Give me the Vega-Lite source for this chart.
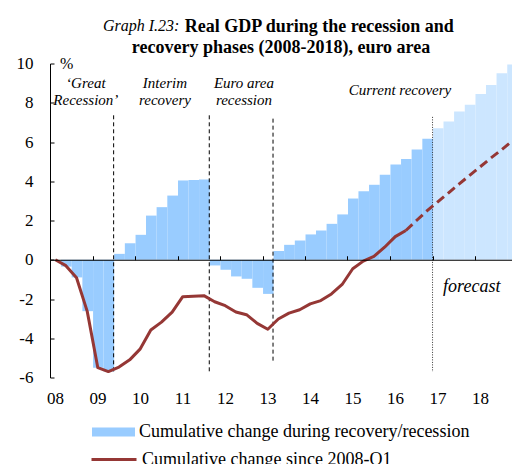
{
  "$schema": "https://vega.github.io/schema/vega-lite/v6.json",
  "width": 462,
  "height": 314,
  "autosize": {"type": "none"},
  "padding": {"left": 50, "top": 63.5, "right": 0, "bottom": 86.5},
  "title": {
    "text": ["\u200b\u00a0\u00a0\u00a0\u00a0\u00a0\u00a0\u00a0\u00a0\u00a0\u00a0\u00a0\u00a0\u00a0\u00a0\u00a0\u00a0\u00a0Real GDP during the recession and", "recovery phases (2008-2018), euro area"],
    "font": "Liberation Serif",
    "fontSize": 18,
    "fontWeight": "bold",
    "color": "#000",
    "anchor": "middle",
    "lineHeight": 21,
    "offset": -39
  },
  "datasets": {
    "gdp": [
      {"date": "2008-01-01T00:00", "bar": 0, "line": 0, "status": "actual"},
      {"date": "2008-04-01T00:00", "bar": -0.35, "line": -0.3, "status": "actual"},
      {"date": "2008-07-01T00:00", "bar": -0.9, "line": -0.92, "status": "actual"},
      {"date": "2008-10-01T00:00", "bar": -2.62, "line": -2.63, "status": "actual"},
      {"date": "2009-01-01T00:00", "bar": -5.5, "line": -5.5, "status": "actual"},
      {"date": "2009-04-01T00:00", "bar": -5.7, "line": -5.7, "status": "actual"},
      {"date": "2009-07-01T00:00", "bar": 0.3, "line": -5.47, "status": "actual"},
      {"date": "2009-10-01T00:00", "bar": 0.84, "line": -5.1, "status": "actual"},
      {"date": "2010-01-01T00:00", "bar": 1.27, "line": -4.54, "status": "actual"},
      {"date": "2010-04-01T00:00", "bar": 2.25, "line": -3.58, "status": "actual"},
      {"date": "2010-07-01T00:00", "bar": 2.68, "line": -3.18, "status": "actual"},
      {"date": "2010-10-01T00:00", "bar": 3.27, "line": -2.67, "status": "actual"},
      {"date": "2011-01-01T00:00", "bar": 4.04, "line": -1.88, "status": "actual"},
      {"date": "2011-04-01T00:00", "bar": 4.06, "line": -1.86, "status": "actual"},
      {"date": "2011-07-01T00:00", "bar": 4.09, "line": -1.83, "status": "actual"},
      {"date": "2011-10-01T00:00", "bar": -0.29, "line": -2.14, "status": "actual"},
      {"date": "2012-01-01T00:00", "bar": -0.51, "line": -2.34, "status": "actual"},
      {"date": "2012-04-01T00:00", "bar": -0.85, "line": -2.66, "status": "actual"},
      {"date": "2012-07-01T00:00", "bar": -0.97, "line": -2.8, "status": "actual"},
      {"date": "2012-10-01T00:00", "bar": -1.43, "line": -3.24, "status": "actual"},
      {"date": "2013-01-01T00:00", "bar": -1.74, "line": -3.54, "status": "actual"},
      {"date": "2013-04-01T00:00", "bar": 0.44, "line": -3.02, "status": "actual"},
      {"date": "2013-07-01T00:00", "bar": 0.76, "line": -2.72, "status": "actual"},
      {"date": "2013-10-01T00:00", "bar": 0.98, "line": -2.55, "status": "actual"},
      {"date": "2014-01-01T00:00", "bar": 1.29, "line": -2.25, "status": "actual"},
      {"date": "2014-04-01T00:00", "bar": 1.49, "line": -2.08, "status": "actual"},
      {"date": "2014-07-01T00:00", "bar": 1.83, "line": -1.74, "status": "actual"},
      {"date": "2014-10-01T00:00", "bar": 2.31, "line": -1.26, "status": "actual"},
      {"date": "2015-01-01T00:00", "bar": 3.12, "line": -0.46, "status": "actual"},
      {"date": "2015-04-01T00:00", "bar": 3.49, "line": -0.07, "status": "actual"},
      {"date": "2015-07-01T00:00", "bar": 3.82, "line": 0.17, "status": "actual"},
      {"date": "2015-10-01T00:00", "bar": 4.33, "line": 0.64, "status": "actual"},
      {"date": "2016-01-01T00:00", "bar": 4.85, "line": 1.18, "status": "actual"},
      {"date": "2016-04-01T00:00", "bar": 5.14, "line": 1.49, "status": "actual"},
      {"date": "2016-07-01T00:00", "bar": 5.62, "line": 2.0, "status": "actual"},
      {"date": "2016-10-01T00:00", "bar": 6.16, "line": 2.5, "status": "actual"},
      {"date": "2017-01-01T00:00", "bar": 6.7, "line": 2.95, "status": "forecast"},
      {"date": "2017-04-01T00:00", "bar": 7.05, "line": 3.4, "status": "forecast"},
      {"date": "2017-07-01T00:00", "bar": 7.55, "line": 3.85, "status": "forecast"},
      {"date": "2017-10-01T00:00", "bar": 7.9, "line": 4.3, "status": "forecast"},
      {"date": "2018-01-01T00:00", "bar": 8.45, "line": 4.74, "status": "forecast"},
      {"date": "2018-04-01T00:00", "bar": 8.9, "line": 5.18, "status": "forecast"},
      {"date": "2018-07-01T00:00", "bar": 9.5, "line": 5.6, "status": "forecast"},
      {"date": "2018-10-01T00:00", "bar": 9.95, "line": 6.05, "status": "forecast"}
    ],
    "rules": [
      {"date": "2009-07-01T00:00", "top": 7.36, "bot": -5.8, "kind": "phase"},
      {"date": "2011-10-01T00:00", "top": 7.36, "bot": -5.78, "kind": "phase"},
      {"date": "2013-04-01T00:00", "top": 7.19, "bot": -5.2, "kind": "phase"},
      {"date": "2017-01-01T00:00", "top": 7.28, "bot": -5.72, "kind": "forecast"}
    ],
    "notes": [
      {"date": "2008-11-04T00:00", "y": 8.74, "text": "\u2018Great\nRecession\u2019", "kind": "phase"},
      {"date": "2010-09-15T00:00", "y": 8.74, "text": "Interim\nrecovery", "kind": "phase"},
      {"date": "2012-07-25T00:00", "y": 8.74, "text": "Euro area\nrecession", "kind": "phase"},
      {"date": "2016-03-27T00:00", "y": 8.42, "text": "Current recovery", "kind": "phase"},
      {"date": "2017-12-04T00:00", "y": -1.63, "text": "forecast", "kind": "forecast"},
      {"date": "2008-03-27T00:00", "y": 9.7, "text": "%", "kind": "unit"},
      {"date": "2009-03-31T00:00", "y": 11.66, "text": "Graph I.23:", "kind": "graph"}
    ]
  },
  "layer": [
    {
      "data": {"name": "gdp"},
      "transform": [{"filter": "datum.status == 'actual'"}],
      "mark": {"type": "bar", "binSpacing": 0},
      "encoding": {
        "x": {
          "field": "date", "type": "temporal", "timeUnit": "yearquarter",
          "scale": {"domain": [{"year": 2008, "month": 1, "date": 1}, {"year": 2018, "month": 11, "date": 15}]},
          "axis": {
            "title": null, "format": "%y", "tickCount": {"interval": "year", "step": 1},
            "offset": -117.75, "tickSize": -4, "labelPadding": 134.5, "labelOffset": 5,
            "labelFlush": false, "labelOverlap": false, "grid": false, "zindex": 1
          }
        },
        "y": {
          "field": "bar", "type": "quantitative",
          "scale": {"domain": [-6, 10], "nice": false, "zero": false},
          "axis": {
            "title": null, "tickCount": 8, "format": "d", "tickSize": -4,
            "labelPadding": 21, "grid": false,
            "labelOverlap": false, "labelFlush": false
          }
        },
        "fill": {
          "datum": "Cumulative change during recovery/recession", "type": "nominal",
          "scale": {"range": ["#99CCFF"]},
          "legend": {
            "orient": "none", "legendX": 42, "legendY": 347, "title": null,
            "symbolType": "M-1,-0.21H1V0.21H-1Z", "symbolSize": 1849, "symbolStrokeWidth": 0,
            "labelFontSize": 18, "labelOffset": 4, "padding": 0
          }
        }
      }
    },
    {
      "data": {"name": "gdp"},
      "transform": [{"filter": "datum.status == 'forecast'"}],
      "mark": {"type": "bar", "fill": "#CCE6FF", "clip": true, "binSpacing": 0},
      "encoding": {
        "x": {"field": "date", "type": "temporal", "timeUnit": "yearquarter"},
        "y": {"field": "bar", "type": "quantitative"}
      }
    },
    {
      "data": {"name": "rules"},
      "transform": [{"filter": "datum.kind == 'phase'"}],
      "mark": {"type": "rule", "color": "#000", "strokeWidth": 1, "strokeDash": [4, 3]},
      "encoding": {
        "x": {"field": "date", "type": "temporal"},
        "y": {"field": "top", "type": "quantitative"},
        "y2": {"field": "bot"}
      }
    },
    {
      "data": {"name": "rules"},
      "transform": [{"filter": "datum.kind == 'forecast'"}],
      "mark": {"type": "rule", "color": "#333", "strokeWidth": 1, "strokeDash": [1, 1.5]},
      "encoding": {
        "x": {"field": "date", "type": "temporal"},
        "y": {"field": "top", "type": "quantitative"},
        "y2": {"field": "bot"}
      }
    },
    {
      "data": {"name": "gdp"},
      "transform": [{"filter": "time(datum.date) <= time(datetime(2016, 3, 1))"}],
      "mark": {"type": "line", "strokeWidth": 3, "strokeJoin": "round"},
      "encoding": {
        "x": {"field": "date", "type": "temporal", "timeUnit": "yearquarter", "bandPosition": 0.5},
        "y": {"field": "line", "type": "quantitative"},
        "stroke": {
          "datum": "Cumulative change since 2008-Q1", "type": "nominal",
          "scale": {"range": ["#953735"]},
          "legend": {
            "orient": "none", "legendX": 40, "legendY": 372, "title": null,
            "symbolType": "stroke", "symbolSize": 2025, "symbolStrokeWidth": 3,
            "labelFontSize": 18, "labelOffset": 4, "padding": 0
          }
        }
      }
    },
    {
      "data": {"name": "gdp"},
      "transform": [{"filter": "time(datum.date) >= time(datetime(2016, 3, 1))"}],
      "mark": {"type": "line", "strokeWidth": 3, "strokeDash": [9, 5], "clip": true},
      "encoding": {
        "x": {"field": "date", "type": "temporal", "timeUnit": "yearquarter", "bandPosition": 0.5},
        "y": {"field": "line", "type": "quantitative"},
        "stroke": {"datum": "Cumulative change since 2008-Q1", "type": "nominal"}
      }
    },
    {
      "data": {"name": "notes"},
      "transform": [{"filter": "datum.kind == 'phase'"}],
      "mark": {"type": "text", "font": "Liberation Serif", "fontSize": 15, "fontStyle": "italic", "color": "#000", "align": "center", "baseline": "alphabetic", "lineBreak": "\n", "lineHeight": 17},
      "encoding": {
        "x": {"field": "date", "type": "temporal"},
        "y": {"field": "y", "type": "quantitative"},
        "text": {"field": "text"}
      }
    },
    {
      "data": {"name": "notes"},
      "transform": [{"filter": "datum.kind == 'forecast'"}],
      "mark": {"type": "text", "font": "Liberation Serif", "fontSize": 18, "fontStyle": "italic", "color": "#000", "align": "center", "baseline": "alphabetic"},
      "encoding": {
        "x": {"field": "date", "type": "temporal"},
        "y": {"field": "y", "type": "quantitative"},
        "text": {"field": "text"}
      }
    },
    {
      "data": {"name": "notes"},
      "transform": [{"filter": "datum.kind == 'unit'"}],
      "mark": {"type": "text", "font": "Liberation Serif", "fontSize": 16, "color": "#000", "align": "left", "baseline": "alphabetic"},
      "encoding": {
        "x": {"field": "date", "type": "temporal"},
        "y": {"field": "y", "type": "quantitative"},
        "text": {"field": "text"}
      }
    },
    {
      "data": {"name": "notes"},
      "transform": [{"filter": "datum.kind == 'graph'"}],
      "mark": {"type": "text", "font": "Liberation Serif", "fontSize": 16, "fontStyle": "italic", "color": "#000", "align": "left", "baseline": "alphabetic"},
      "encoding": {
        "x": {"field": "date", "type": "temporal"},
        "y": {"field": "y", "type": "quantitative"},
        "text": {"field": "text"}
      }
    }
  ],
  "config": {
    "view": {"stroke": null},
    "font": "Liberation Serif",
    "locale": {
      "number": {"decimal": ".", "thousands": ",", "grouping": [3], "currency": ["$", ""], "minus": "-"}
    },
    "axis": {
      "domainColor": "#000", "tickColor": "#000", "labelColor": "#000",
      "labelFont": "Liberation Serif", "labelFontSize": 17, "grid": false
    },
    "axisY": {"labelOverlap": false, "labelSeparation": 0},
    "legend": {
      "labelFont": "Liberation Serif", "labelColor": "#000", "labelFontSize": 18, "labelLimit": 0
    }
  }
}
